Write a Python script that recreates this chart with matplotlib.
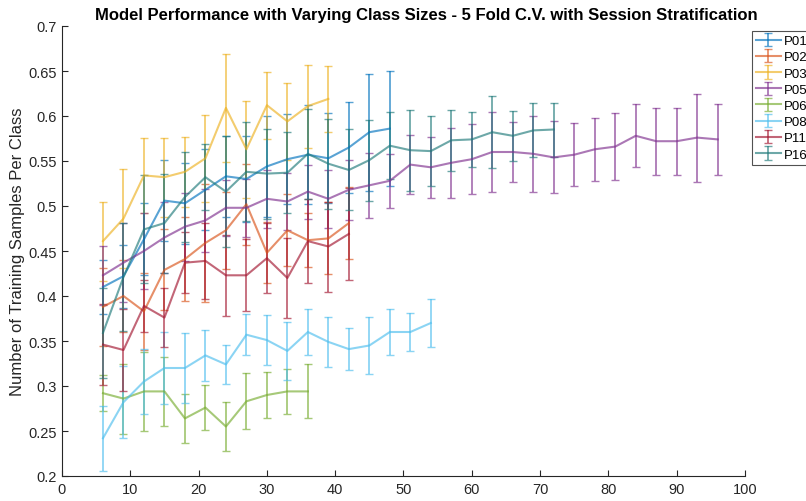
import matplotlib
matplotlib.use("Agg")
import matplotlib.pyplot as plt

plt.rcParams['font.family'] = ['Liberation Sans', 'DejaVu Sans']

# Number of training samples per class (x axis)
class_sizes = [6, 9, 12, 15, 18, 21, 24, 27, 30, 33, 36, 39, 42, 45, 48, 51,
               54, 57, 60, 63, 66, 69, 72, 75, 78, 81, 84, 87, 90, 93, 96]

participants = ["P01", "P02", "P03", "P05", "P06", "P08", "P11", "P16"]

p01_mean = [0.410, 0.422, 0.463, 0.506, 0.503, 0.518, 0.533, 0.530, 0.544,
            0.552, 0.557, 0.553, 0.565, 0.582, 0.586]
p01_err = [0.030, 0.035, 0.040, 0.045, 0.045, 0.045, 0.045, 0.048, 0.056,
           0.050, 0.055, 0.050, 0.051, 0.065, 0.064]

p02_mean = [0.388, 0.400, 0.383, 0.429, 0.441, 0.459, 0.473, 0.502, 0.448,
            0.473, 0.462, 0.464, 0.481]
p02_err = [0.043, 0.040, 0.043, 0.045, 0.047, 0.066, 0.043, 0.045, 0.034,
           0.040, 0.030, 0.040, 0.040]

p03_mean = [0.461, 0.486, 0.534, 0.532, 0.538, 0.553, 0.609, 0.563, 0.612,
            0.594, 0.611, 0.619]
p03_err = [0.044, 0.055, 0.042, 0.044, 0.039, 0.048, 0.060, 0.054, 0.037,
           0.043, 0.046, 0.037]

p05_mean = [0.423, 0.437, 0.450, 0.465, 0.477, 0.484, 0.498, 0.498, 0.508,
            0.505, 0.516, 0.508, 0.518, 0.523, 0.528, 0.546, 0.543, 0.548,
            0.552, 0.560, 0.560, 0.558, 0.554, 0.557, 0.563, 0.566, 0.578,
            0.572, 0.572, 0.576, 0.574]
p05_err = [0.033, 0.044, 0.042, 0.040, 0.038, 0.035, 0.031, 0.032, 0.032,
           0.032, 0.030, 0.032, 0.033, 0.036, 0.030, 0.033, 0.034, 0.039,
           0.039, 0.044, 0.033, 0.042, 0.040, 0.035, 0.035, 0.037, 0.035,
           0.037, 0.037, 0.049, 0.039]

p06_mean = [0.292, 0.286, 0.294, 0.294, 0.264, 0.276, 0.255, 0.283, 0.290,
            0.294, 0.294]
p06_err = [0.020, 0.039, 0.044, 0.038, 0.027, 0.025, 0.027, 0.031, 0.026,
           0.025, 0.030]

p08_mean = [0.242, 0.282, 0.305, 0.320, 0.320, 0.334, 0.324, 0.357, 0.351,
            0.339, 0.360, 0.349, 0.341, 0.345, 0.360, 0.360, 0.370]
p08_err = [0.036, 0.040, 0.036, 0.040, 0.039, 0.028, 0.022, 0.023, 0.028,
           0.032, 0.026, 0.028, 0.023, 0.032, 0.026, 0.021, 0.027]

p11_mean = [0.346, 0.340, 0.389, 0.376, 0.437, 0.439, 0.423, 0.423, 0.442,
            0.420, 0.461, 0.455, 0.469]
p11_err = [0.045, 0.046, 0.029, 0.033, 0.034, 0.042, 0.045, 0.040, 0.039,
           0.044, 0.047, 0.050, 0.051]

p16_mean = [0.359, 0.421, 0.474, 0.481, 0.510, 0.532, 0.516, 0.538, 0.536,
            0.537, 0.558, 0.547, 0.540, 0.551, 0.567, 0.562, 0.561, 0.573,
            0.574, 0.582, 0.578, 0.584, 0.585]
p16_err = [0.050, 0.060, 0.060, 0.055, 0.050, 0.037, 0.062, 0.055, 0.050,
           0.045, 0.050, 0.050, 0.045, 0.045, 0.037, 0.045, 0.039, 0.034,
           0.031, 0.040, 0.028, 0.030, 0.030]

means = [p01_mean, p02_mean, p03_mean, p05_mean, p06_mean, p08_mean, p11_mean, p16_mean]
errs = [p01_err, p02_err, p03_err, p05_err, p06_err, p08_err, p11_err, p16_err]

colors = ["#0072BD", "#D95319", "#EDB120", "#7E2F8E",
          "#77AC30", "#4DBEEE", "#A2142F", "#1F7A7A"]

x_ticks = [0, 10, 20, 30, 40, 50, 60, 70, 80, 90, 100]
y_ticks = [0.2, 0.25, 0.3, 0.35, 0.4, 0.45, 0.5, 0.55, 0.6, 0.65, 0.7]
y_tick_labels = ["0.2", "0.25", "0.3", "0.35", "0.4", "0.45", "0.5",
                 "0.55", "0.6", "0.65", "0.7"]

fig = plt.figure(figsize=(8.06, 5.02), dpi=100)
ax = fig.add_axes([62 / 806, 1 - 477 / 502, (745 - 62) / 806, (477 - 27) / 502])

for name, m, e, c in zip(participants, means, errs, colors):
    xs = class_sizes[:len(m)]
    ax.errorbar(xs, m, yerr=e, color=c, alpha=0.65, linewidth=1.5,
                elinewidth=1.3, capsize=3, capthick=1.0, label=name)

ax.set_xlim(0, 100)
ax.set_ylim(0.2, 0.7)
ax.set_xticks(x_ticks)
ax.set_yticks(y_ticks)
ax.set_yticklabels(y_tick_labels)
ax.tick_params(direction='in', length=4, width=0.8, colors='#262626',
               labelsize=10.5, pad=4)
for side in ('top', 'right'):
    ax.spines[side].set_visible(False)
for side in ('left', 'bottom'):
    ax.spines[side].set_color('#262626')
    ax.spines[side].set_linewidth(0.8)

ax.set_ylabel("Number of Training Samples Per Class", fontsize=12,
              color='#262626', labelpad=2)
ax.set_title("Model Performance with Varying Class Sizes - 5 Fold C.V. with Session Stratification",
             fontsize=12, fontweight='bold', pad=5, x=0.533)

leg = ax.legend(loc='upper left', bbox_to_anchor=(752 / 806, 1 - 32 / 502),
                bbox_transform=fig.transFigure, fontsize=9.5, frameon=True,
                fancybox=False, handlelength=1.9, handletextpad=0.2,
                labelspacing=0.3, borderpad=0.3, borderaxespad=0)
leg.get_frame().set_edgecolor('#262626')
leg.get_frame().set_linewidth(0.8)

fig.savefig("out.png", dpi=100)
